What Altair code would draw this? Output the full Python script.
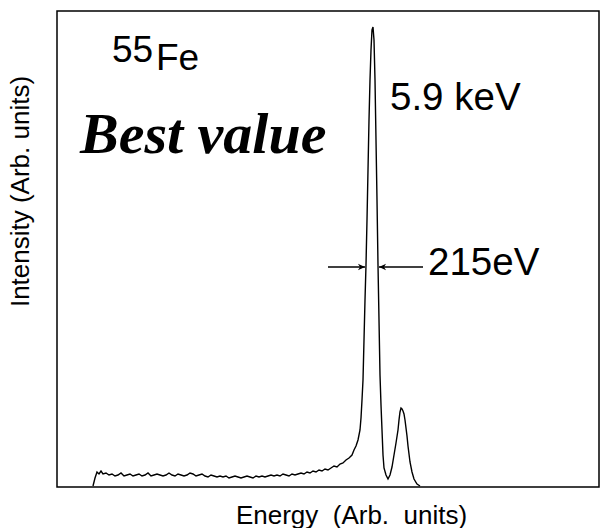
import altair as alt
import pandas as pd

# spectrum (channel, counts)
channel = [93, 95, 97, 99, 101, 103, 106, 109, 112, 115, 118, 121, 124, 127, 130, 133, 136, 139, 142, 145,
           148, 151, 154, 157, 160, 163, 166, 169, 172, 175, 178, 181, 184, 187, 190, 193, 196, 199, 202, 205,
           208, 211, 214, 217, 220, 223, 226, 229, 232, 235, 238, 241, 244, 247, 250, 253, 256, 259, 262, 265,
           268, 271, 274, 277, 280, 283, 286, 289, 292, 295, 298, 301, 304, 307, 310, 313, 316, 319, 322, 325,
           328, 331, 334, 337, 340, 343, 346, 349, 352, 354, 356, 358, 360, 361, 362, 363, 364, 365, 366, 367,
           368, 369, 370, 371, 372, 373, 374, 375, 376, 377, 378, 379, 380, 381, 382, 383, 384, 386, 388, 390,
           392, 394, 396, 398, 399, 400, 401, 402, 403, 404, 405, 406, 407, 408, 410, 412, 414, 417, 420]
counts = [1, 9, 15, 13, 16, 13, 14, 12, 13, 11, 12, 14, 11, 12, 13, 11, 12, 13, 11, 12,
          14, 11, 12, 13, 12, 11, 12, 14, 12, 11, 13, 12, 11, 12, 14, 13, 11, 12, 13, 11,
          10, 12, 11, 10, 11, 10, 11, 9, 10, 11, 10, 9, 10, 11, 10, 9, 11, 10, 11, 10,
          11, 12, 11, 12, 11, 13, 12, 11, 13, 12, 13, 14, 13, 15, 14, 16, 15, 17, 16, 18,
          17, 19, 21, 20, 23, 24, 27, 29, 32, 37, 41, 47, 57, 69, 87, 107, 147, 187, 222, 267,
          317, 367, 407, 437, 457, 460, 447, 407, 347, 287, 222, 167, 112, 82, 57, 32, 19, 12, 8, 12,
          20, 32, 44, 57, 67, 75, 79, 78, 76, 73, 67, 59, 51, 41, 25, 15, 8, 3, 1]

# annotations
iso_texts = ["55", "Fe"]
iso_x = [112, 156]
iso_y = [425, 417]
peak_texts = ["5.9 keV", "215eV"]
peak_x = [390, 428]
peak_y = [377, 212]
fwhm_left = [328, 365]
fwhm_right = [423, 379]
fwhm_level = 220

X_DOM = [57, 599]
Y_DOM = [0, 476]

spec = pd.DataFrame({"channel": channel, "counts": counts})
xs = alt.Scale(domain=X_DOM, nice=False, zero=False)
ys = alt.Scale(domain=Y_DOM, nice=False, zero=False)

line = alt.Chart(spec).mark_line(color="black", strokeWidth=1.4).encode(
    x=alt.X("channel:Q", scale=xs,
            axis=alt.Axis(title="Energy\u00a0\u00a0(Arb.\u00a0\u00a0units)", labels=False, ticks=False,
                          domain=False, grid=False, titleFontSize=26, titleFont="Liberation Sans",
                          titleFontWeight="normal", titleColor="black", titleX=294, titleY=36,
                          titleBaseline="alphabetic", titleAlign="center")),
    y=alt.Y("counts:Q", scale=ys,
            axis=alt.Axis(title="Intensity (Arb. units)", labels=False, ticks=False,
                          domain=False, grid=False, titleFontSize=26, titleFont="Liberation Sans",
                          titleFontWeight="normal", titleColor="black", titleX=-37, titleY=180,
                          titleAngle=270, titleBaseline="middle", titleAlign="center")),
)

iso = alt.Chart(pd.DataFrame({"t": iso_texts, "x": iso_x, "y": iso_y})).mark_text(
    font="Liberation Sans", fontSize=37, align="left", baseline="alphabetic", color="black").encode(
    x=alt.X("x:Q", scale=xs), y=alt.Y("y:Q", scale=ys), text="t:N")

peaks = alt.Chart(pd.DataFrame({"t": peak_texts, "x": peak_x, "y": peak_y})).mark_text(
    font="Liberation Sans", fontSize=38.5, align="left", baseline="alphabetic", color="black").encode(
    x=alt.X("x:Q", scale=xs), y=alt.Y("y:Q", scale=ys), text="t:N")

best = alt.Chart(pd.DataFrame({"t": ["Best value"], "x": [80], "y": [334]})).mark_text(
    font="Liberation Serif", fontSize=58, fontWeight="bold", fontStyle="italic",
    align="left", baseline="alphabetic", color="black").encode(
    x=alt.X("x:Q", scale=xs), y=alt.Y("y:Q", scale=ys), text="t:N")

arr = pd.DataFrame({"x1": [fwhm_left[0], fwhm_right[0]], "x2": [fwhm_left[1], fwhm_right[1]],
                    "y": [fwhm_level, fwhm_level]})
shafts = alt.Chart(arr).mark_rule(color="black", strokeWidth=1.3).encode(
    x=alt.X("x1:Q", scale=xs), x2="x2:Q", y=alt.Y("y:Q", scale=ys))

heads_r = alt.Chart(pd.DataFrame({"x": [fwhm_left[1]], "y": [fwhm_level]})).mark_point(
    shape="M0,0 L-1,-0.45 L-0.7,0 L-1,0.45 Z", filled=True, color="black", size=200, opacity=1).encode(
    x=alt.X("x:Q", scale=xs), y=alt.Y("y:Q", scale=ys))
heads_l = alt.Chart(pd.DataFrame({"x": [fwhm_right[1]], "y": [fwhm_level]})).mark_point(
    shape="M0,0 L1,-0.45 L0.7,0 L1,0.45 Z", filled=True, color="black", size=200, opacity=1).encode(
    x=alt.X("x:Q", scale=xs), y=alt.Y("y:Q", scale=ys))

chart = alt.layer(line, iso, peaks, best, shafts, heads_r, heads_l).properties(
    width=542, height=476,
    autosize=alt.AutoSizeParams(type="none"),
    padding={"left": 57, "top": 11, "right": 1, "bottom": 41},
    background="white",
).configure_view(stroke="black", strokeWidth=1.5)

chart.save("out.html", embed_options={"renderer": "svg", "actions": False})
